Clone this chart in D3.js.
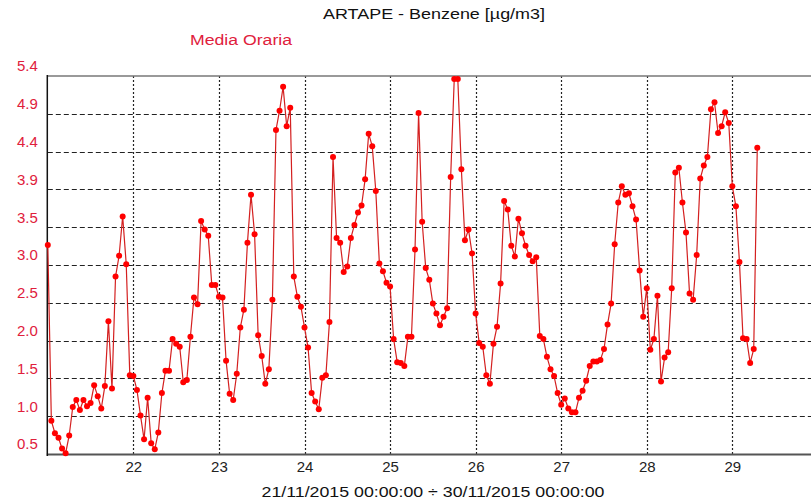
<!DOCTYPE html>
<html>
<head>
<meta charset="utf-8">
<script src="https://cdn.jsdelivr.net/npm/d3@7/dist/d3.min.js"></script>
<style>
  html, body { margin: 0; padding: 0; background: #ffffff; }
  svg { display: block; font-family: "Liberation Sans", Arial, sans-serif; }
</style>
</head>
<body>
<svg id="chart" width="811" height="502"></svg>
<script>
// ---- Data ----
const chartTitle = "ARTAPE - Benzene [µg/m3]";
const seriesName = "Media Oraria";
const xAxisTitle = "21/11/2015 00:00:00 ÷ 30/11/2015 00:00:00";
const startDate = "2015-11-21T00:00:00";
const endDate = "2015-11-30T00:00:00";
const xTickLabels = ["22", "23", "24", "25", "26", "27", "28", "29"];
const yTickValues = [0.5, 0.99, 1.48, 1.97, 2.46, 2.95, 3.44, 3.93, 4.42, 4.91, 5.4];
const yTickLabels = ["0.5", "1.0", "1.5", "2.0", "2.5", "3.0", "3.5", "3.9", "4.4", "4.9", "5.4"];
// hourly means, starting 21/11/2015 00:00
const hourlyValues = [
  3.21, 0.93, 0.77, 0.71, 0.57, 0.51, 0.74, 1.11, 1.20, 1.07, 1.20, 1.12,
  1.16, 1.39, 1.25, 1.09, 1.38, 2.22, 1.35, 2.80, 3.07, 3.58, 2.96, 1.52,
  1.51, 1.33, 1.00, 0.69, 1.23, 0.64, 0.56, 0.78, 1.29, 1.58, 1.58, 1.99,
  1.93, 1.89, 1.43, 1.46, 2.02, 2.53, 2.44, 3.52, 3.41, 3.33, 2.69, 2.69,
  2.54, 2.53, 1.71, 1.28, 1.20, 1.54, 2.14, 2.37, 3.24, 3.86, 3.35, 2.04,
  1.77, 1.41, 1.60, 2.50, 4.70, 4.95, 5.26, 4.75, 4.99, 2.80, 2.54, 2.41,
  2.14, 1.88, 1.29, 1.18, 1.08, 1.49, 1.52, 2.21, 4.35, 3.30, 3.24, 2.86,
  2.93, 3.30, 3.47, 3.63, 3.72, 4.06, 4.65, 4.49, 3.91, 2.97, 2.87, 2.72,
  2.67, 1.99, 1.69, 1.68, 1.64, 2.02, 2.02, 3.15, 4.92, 3.51, 2.91, 2.76,
  2.45, 2.32, 2.17, 2.28, 2.39, 4.09, 5.36, 5.36, 4.19, 3.27, 3.41, 3.10,
  2.32, 1.94, 1.89, 1.52, 1.41, 1.93, 2.15, 2.71, 3.78, 3.67, 3.20, 3.06,
  3.55, 3.36, 3.20, 3.08, 3.00, 3.05, 2.03, 1.99, 1.76, 1.60, 1.51, 1.29,
  1.14, 1.22, 1.09, 1.04, 1.04, 1.23, 1.32, 1.45, 1.64, 1.70, 1.70, 1.72,
  1.86, 2.18, 2.45, 3.22, 3.76, 3.97, 3.86, 3.88, 3.71, 3.54, 2.88, 2.28,
  2.65, 1.85, 1.99, 2.55, 1.44, 1.75, 1.82, 2.65, 4.15, 4.21, 3.76, 3.37,
  2.58, 2.50, 3.08, 4.07, 4.24, 4.35, 4.97, 5.06, 4.66, 4.75, 4.93, 4.79,
  3.97, 3.71, 2.99, 2.00, 1.99, 1.68, 1.86, 4.47
];

// ---- Layout ----
const W = 811, H = 502;
const plot = { left: 47.8, right: 817.9, top: 76, bottom: 454 };

const svg = d3.select("#chart");
const t0 = new Date(startDate);
const t1 = new Date(endDate);
const hourMs = 3600 * 1000;
const points = hourlyValues.map((v, i) => ({ t: new Date(t0.getTime() + i * hourMs), v }));

const x = d3.scaleTime().domain([t0, t1]).range([plot.left, plot.right]);
const y = d3.scaleLinear().domain([yTickValues[0], yTickValues[yTickValues.length - 1]])
  .range([plot.bottom, plot.top]);

const dayTicks = xTickLabels.map((lab, i) => d3.timeDay.offset(t0, i + 1));

// horizontal dashed gridlines
svg.append("g").selectAll("line")
  .data(yTickValues.slice(1, -1))
  .join("line")
  .attr("x1", plot.left).attr("x2", W)
  .attr("y1", d => Math.round(y(d)) + 0.5).attr("y2", d => Math.round(y(d)) + 0.5)
  .attr("stroke", "#222").attr("stroke-width", 1.2)
  .attr("stroke-dasharray", "5,3");

// vertical dotted gridlines
svg.append("g").selectAll("line")
  .data(dayTicks)
  .join("line")
  .attr("x1", d => Math.round(x(d)) + 0.5).attr("x2", d => Math.round(x(d)) + 0.5)
  .attr("y1", plot.top).attr("y2", plot.bottom)
  .attr("stroke", "#222").attr("stroke-width", 1.2)
  .attr("stroke-dasharray", "2,2");

// top border
svg.append("line")
  .attr("x1", plot.left).attr("x2", W)
  .attr("y1", plot.top).attr("y2", plot.top)
  .attr("stroke", "#777").attr("stroke-width", 1.5);

// bottom axis line
svg.append("line")
  .attr("x1", plot.left - 1).attr("x2", W)
  .attr("y1", plot.bottom + 0.5).attr("y2", plot.bottom + 0.5)
  .attr("stroke", "#555").attr("stroke-width", 2);

// left axis line
svg.append("line")
  .attr("x1", plot.left - 0.5).attr("x2", plot.left - 0.5)
  .attr("y1", plot.top - 1).attr("y2", plot.bottom + 2)
  .attr("stroke", "#111").attr("stroke-width", 1.5);

// x tick labels via d3 axis
const xAxis = d3.axisBottom(x)
  .tickValues(dayTicks)
  .tickFormat((d, i) => xTickLabels[i])
  .tickSize(0).tickPadding(7);
const gx = svg.append("g")
  .attr("transform", `translate(0,${plot.bottom})`)
  .call(xAxis);
gx.select(".domain").remove();
gx.selectAll("text")
  .attr("fill", "#222")
  .style("font-size", "15px")
  .style("font-family", "'Liberation Sans', Arial, sans-serif");

// y tick labels via d3 axis (shifted above their gridlines)
const yAxis = d3.axisLeft(y)
  .tickValues(yTickValues)
  .tickFormat((d, i) => yTickLabels[i])
  .tickSize(0).tickPadding(10);
const gy = svg.append("g")
  .attr("transform", `translate(${plot.left},-10)`)
  .call(yAxis);
gy.select(".domain").remove();
gy.selectAll("text")
  .attr("fill", "#e0203c")
  .style("font-size", "15px")
  .style("font-family", "'Liberation Sans', Arial, sans-serif");

// data line
const line = d3.line().x(d => x(d.t)).y(d => y(d.v));
svg.append("path")
  .datum(points)
  .attr("fill", "none")
  .attr("stroke", "#d42020")
  .attr("stroke-width", 1.2)
  .attr("d", line);

// data dots
svg.append("g").selectAll("circle")
  .data(points)
  .join("circle")
  .attr("cx", d => x(d.t)).attr("cy", d => y(d.v))
  .attr("r", 3)
  .attr("fill", "#ff0000");

// titles
svg.append("text")
  .attr("x", 434).attr("y", 19)
  .attr("text-anchor", "middle")
  .attr("fill", "#111")
  .style("font-size", "15px")
  .attr("textLength", 222).attr("lengthAdjust", "spacingAndGlyphs")
  .text(chartTitle);

svg.append("text")
  .attr("x", 241).attr("y", 45)
  .attr("text-anchor", "middle")
  .attr("fill", "#e0203c")
  .style("font-size", "14px")
  .attr("textLength", 102).attr("lengthAdjust", "spacingAndGlyphs")
  .text(seriesName);

svg.append("text")
  .attr("x", 433).attr("y", 497)
  .attr("text-anchor", "middle")
  .attr("fill", "#111")
  .style("font-size", "15px")
  .attr("textLength", 343).attr("lengthAdjust", "spacingAndGlyphs")
  .text(xAxisTitle);
</script>
</body>
</html>
